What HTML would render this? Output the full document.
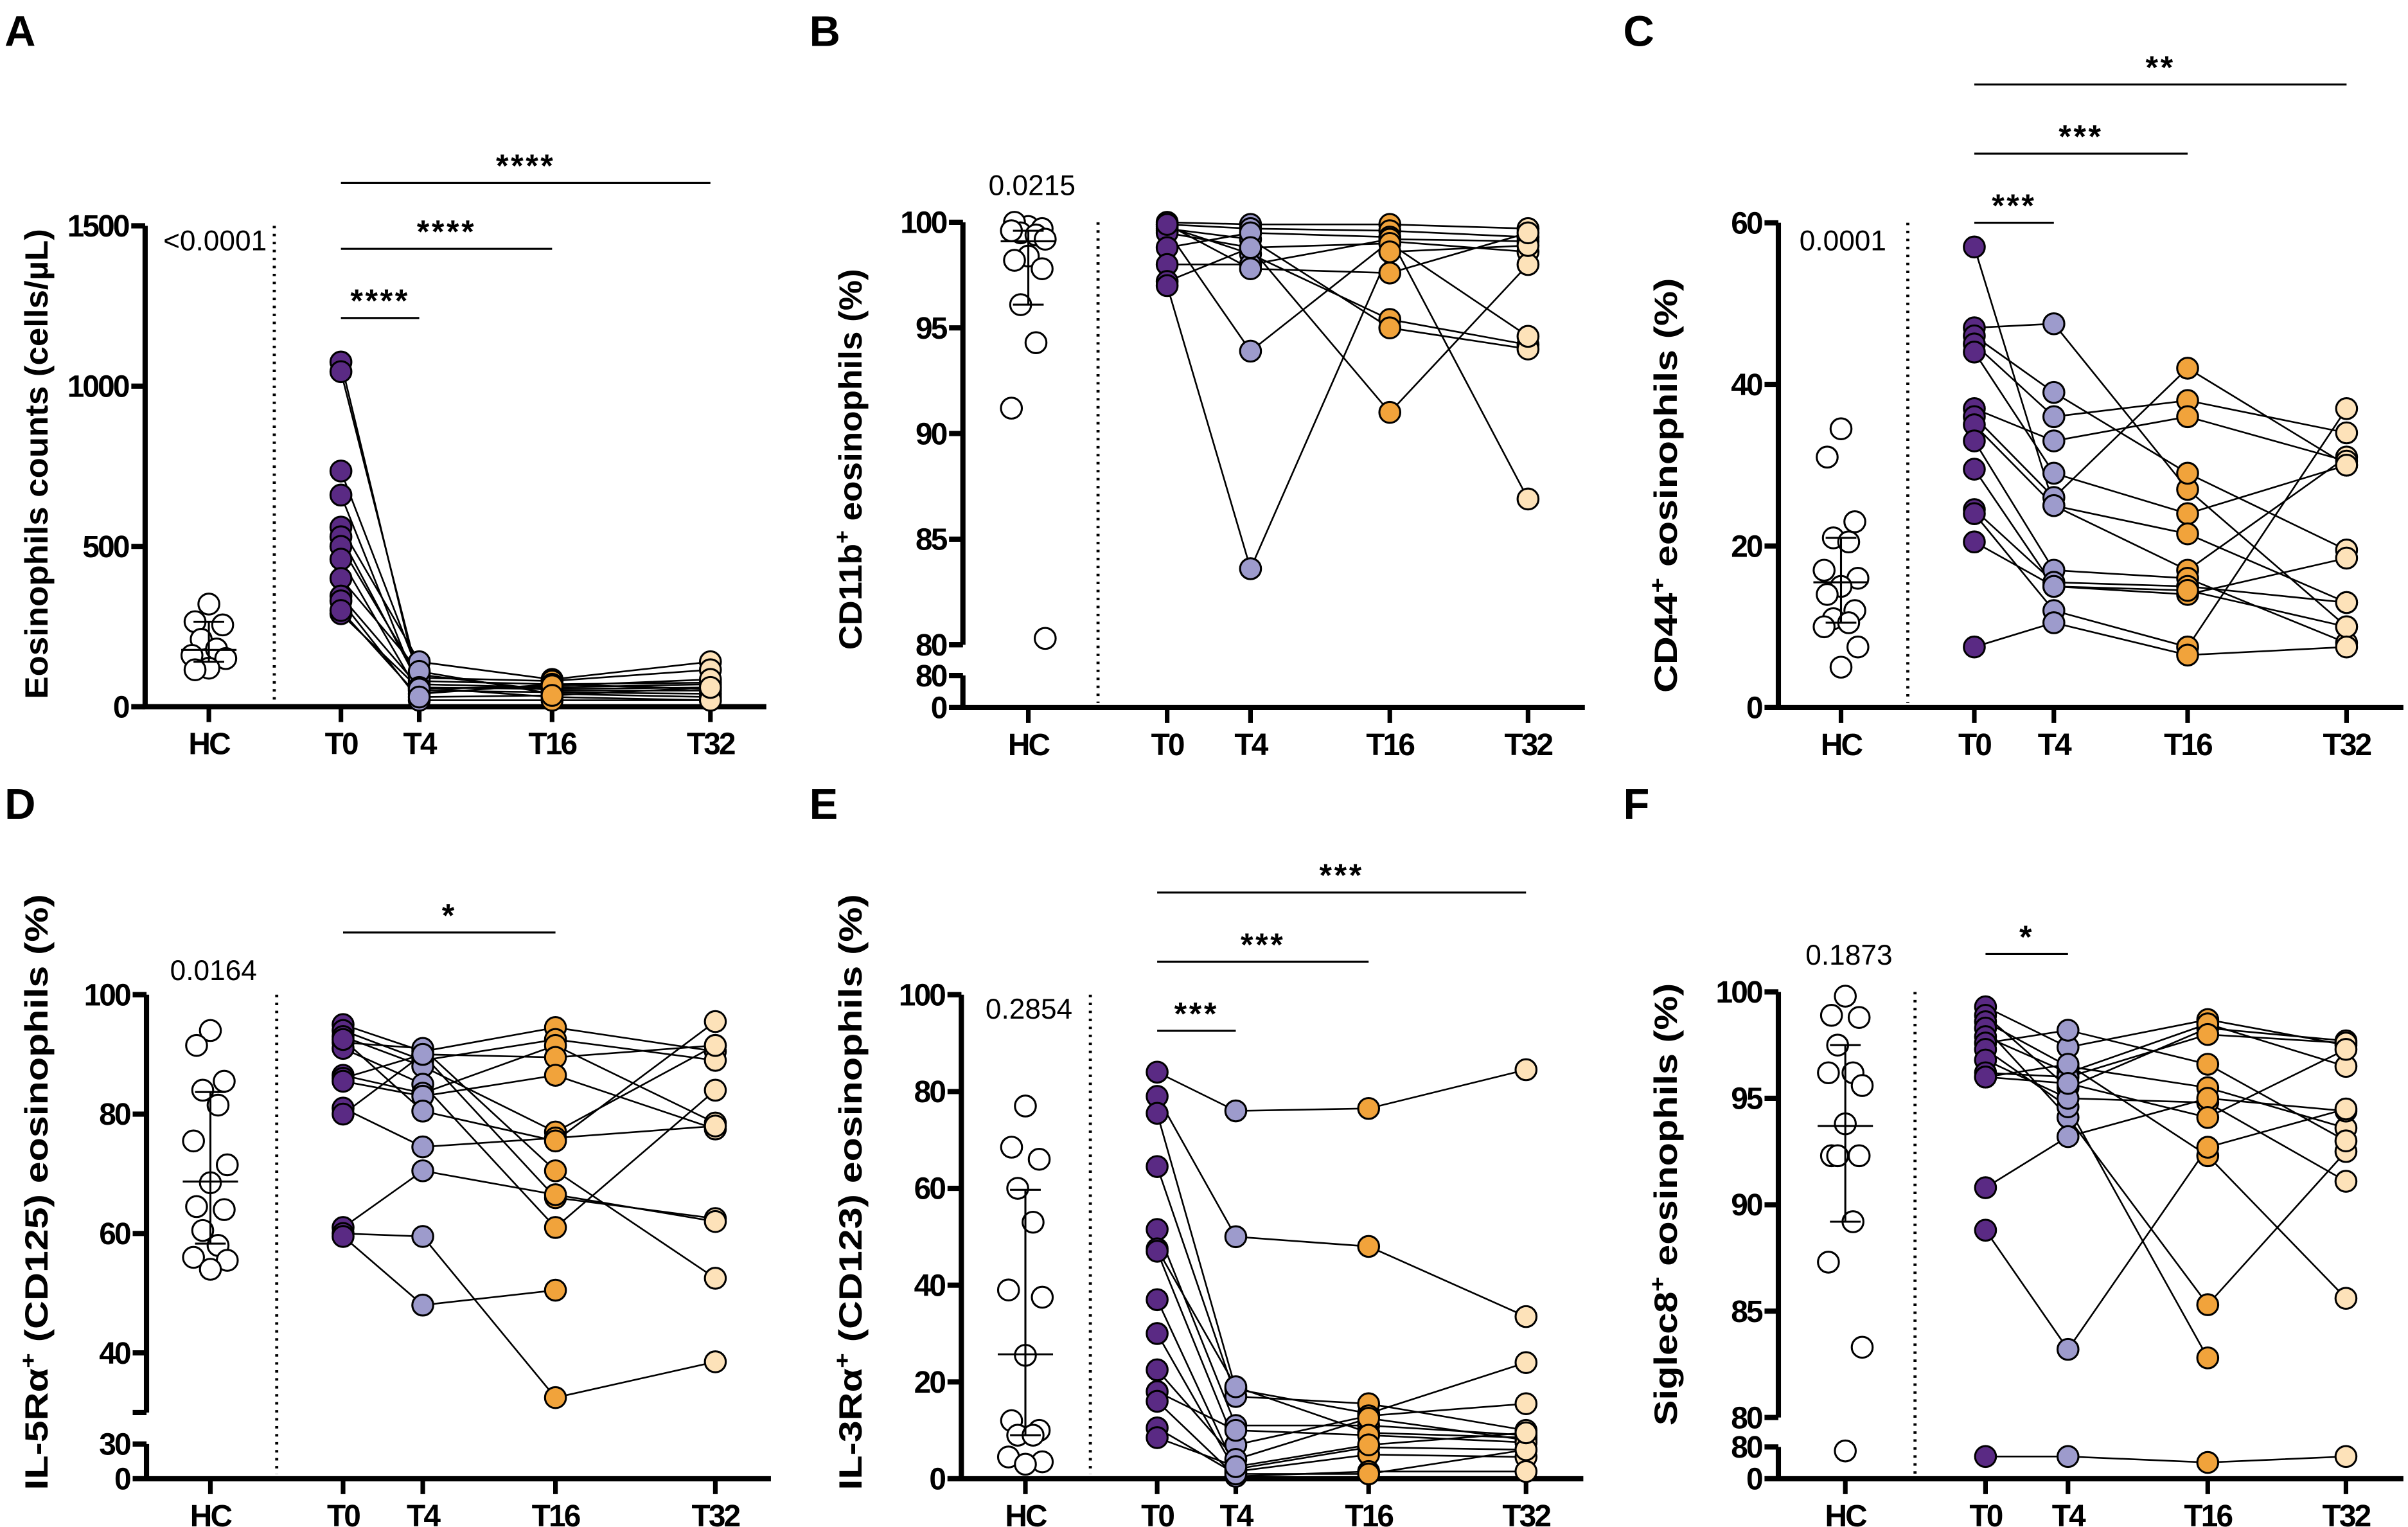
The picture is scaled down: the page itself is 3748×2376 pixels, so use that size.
<!DOCTYPE html>
<html><head><meta charset="utf-8"><style>
html,body{margin:0;padding:0;background:#fff;}
svg{display:block;}
text{font-family:"Liberation Sans",sans-serif;}
</style></head><body>
<svg id="fig" width="3748" height="2376" viewBox="0 0 1568 994" preserveAspectRatio="none" xmlns="http://www.w3.org/2000/svg"></svg>
<script>
// ---------- DATA ----------
const categories = ["HC","T0","T4","T16","T32"];
// Panel A: eosinophil counts
const aHC = [320,265,255,210,180,160,150,120,115];
const aHCStats = [177,140,265];
const aT0 = [1075,1045,735,660,560,530,500,460,400,345,330,290,300];
const aT4 = [60,80,100,50,140,70,90,40,110,60,20,55,30];
const aT16 = [55,70,50,45,85,60,80,70,40,30,20,65,35];
const aT32 = [60,75,50,40,140,70,115,55,30,20,20,85,60];
// Panel B: CD11b+
const bHC = [99.8,100,99.7,99.5,99.4,99.6,99.2,98.4,98.2,97.8,96.1,94.3,91.2,80.3];
const bHCStats = [99.1,96.1,99.6];
const bT0 = [100,99.9,99.8,99.7,99.6,99.5,98.8,98.0,97.2,97.0,99.9];
const bT4 = [99.9,99.7,98.5,99.2,93.9,98.8,99.5,98.0,98.8,83.6,97.8];
const bT16 = [99.9,99.6,95.4,95.0,99.1,91.0,99.3,99.2,99.0,98.6,97.6];
const bT32 = [99.7,99.3,94.2,94.0,98.6,98.0,86.9,99.1,94.6,98.9,99.5];
// Panel C: CD44+
const cHC = [34.5,31,23,21,20.5,17,16,15,14,12,11,10.5,10,7.5,5];
const cHCStats = [15.5,10.5,21];
const cT0 = [57,47,46,45,44,37,36,35,33,29.5,24.5,24,20.5,7.5];
const cT4 = [25,47.5,39,36,29,33,26,25,17,15,15.5,12,15,10.5];
const cT16 = [17,27,29,38,24,36,42,21.5,16,14,15,7.5,14.5,6.5];
const cT32 = [31,10,19.5,34,30,30.5,30,13,8,18.5,13,37,10,7.5];
// Panel D: IL-5Ra+
const dHC = [94,91.5,85.5,84,81.5,75.5,71.5,68.5,64.5,64,60.5,58,56,55.5,54];
const dHCStats = [68.7,58.3,83.7];
const dT0 = [95,94,93,92,91,86.5,86,85.5,81,80,61,60,59.5,92.5];
const dT4 = [90.5,89,88,91,85,83.5,90,83,74.5,90,70.5,59.5,48,80.5];
const dT16 = [94.5,92.5,77,70.5,61,91.5,89.5,86.5,76,66,66.5,32.5,50.5,75.5];
const dT32 = [90.5,89,91.5,52.5,84,78.5,91.5,77.5,78,62.5,62,38.5,null,95.5];
// Panel E: IL-3Ra+
const eHC = [77,68.5,66,60,53,39,37.5,25.5,12,10,9,9,4.5,3.5,3];
const eHCStats = [25.7,9,59.7];
const eT0 = [84,79,75.5,64.5,51.5,47.5,47,37,30,22.5,18,16,10.5,8.5];
const eT4 = [76,50,18.5,17,11,19,7,2,1.5,4,10,0.5,1,2.5];
const eT16 = [76.5,48,13.5,15.5,11,9.5,13,6.5,5,12.5,9,1.5,1,7];
const eT32 = [84.5,33.5,24,10,9,8.5,15.5,6,4.5,8,7.5,1.5,6,9.5];
// Panel F: Siglec8+
const fHC = [99.8,98.9,98.8,97.5,96.2,96.2,95.6,93.8,92.3,92.3,92.3,89.2,87.3,83.3,70];
const fHCStats = [93.7,89.2,97.5];
const fT0 = [99.3,98.9,98.6,98.3,97.9,97.6,97.3,96.8,96.2,96.0,90.8,88.8,96.0,56];
const fT4 = [97.4,95.5,96.5,94.1,96.2,98.2,94.6,95.0,96.0,96.6,93.2,83.2,95.7,56];
const fT16 = [98.7,98.3,95.5,85.3,98.5,96.6,82.8,94.8,98.0,92.3,95.0,92.7,94.1,41];
const fT32 = [97.5,97.7,93.6,92.5,96.5,93.0,null,91.1,97.6,85.6,94.4,94.5,97.3,56];

// tick labels
const aTicks = [0,500,1000,1500];
const bTicksUpper = [80,85,90,95,100];
const bTicksLower = [0,80];
const cTicks = [0,20,40,60];
const dTicksUpper = [40,60,80,100];
const dTicksLower = [0,30];
const eTicks = [0,20,40,60,80,100];
const fTicksUpper = [80,85,90,95,100];
const fTicksLower = [0,80];
const pValues = ["<0.0001","0.0215","0.0001","0.0164","0.2854","0.1873"];

// ---------- DRAW ----------
const NS = "http://www.w3.org/2000/svg";
const svg = document.getElementById("fig");
const colors = ["#ffffff","#5a2a84","#9d9bcc","#f1a33b","#fde2b9"];
function el(tag, attrs, parent){
  const e = document.createElementNS(NS, tag);
  for (const k in attrs) e.setAttribute(k, attrs[k]);
  (parent||svg).appendChild(e);
  return e;
}
function segY(s, v){ return s.y0 + (v-s.v0)/(s.v1-s.v0)*(s.y1-s.y0); }
function makeY(segs){
  return function(v){
    for (const s of segs){
      if (v>=s.v0 && v<=s.v1) return segY(s, v);
    }
    return segY(segs[segs.length-1], v);
  };
}
function drawPanel(p){
  const g = el("g", {});
  
  
  const y = makeY(p.segs);
  const base = p.segs[p.segs.length-1].y0;
  const top = p.segs[0].y1;
  const L = el("text", {x:p.letter[1], y:p.letter[2], "font-size":28, "font-weight":"bold"}, g);
  L.textContent = p.letter[0];
  
  
  p.segs.forEach((s,si)=>{
    const ln = el("line", {x1:p.ax, x2:p.ax, y1:s.y0 + (si===p.segs.length-1?1.5:0), y2:s.y1, stroke:"#000","stroke-width":3.4}, g);
    
    
    [s.y0,s.y1].forEach(yy=>{
      el("line", {x1:p.ax-9, x2:p.ax, y1:yy, y2:yy, stroke:"#000","stroke-width":3.4}, g);
    });
  });
  p.ticks.forEach(t=>{
    const yy = segY(p.segs[t.seg], t.v);
    el("line", {x1:p.ax-9, x2:p.ax, y1:yy, y2:yy, stroke:"#000","stroke-width":3.4}, g);
    const tx = el("text", {x:p.ax-11, y:yy+7, "font-size":20, "font-weight":"bold","text-anchor":"end","letter-spacing":"-1.2"}, g);
    tx.textContent = t.label;
    
    
  });
  const xa = el("line", {x1:p.ax-1.7, x2:p.xEnd, y1:base, y2:base, stroke:"#000","stroke-width":3.4}, g);
  
  
  categories.forEach((c,i)=>{
    const xx = p.xs[i];
    el("line", {x1:xx, x2:xx, y1:base, y2:base+10, stroke:"#000","stroke-width":3}, g);
    const tx = el("text", {x:xx, y:base+31, "font-size":20, "font-weight":"bold","text-anchor":"middle","letter-spacing":"-1.2"}, g);
    tx.textContent = c;
    
    
  });
  const dl = el("line", {x1:p.dot, x2:p.dot, y1:top, y2:base-3, stroke:"#000","stroke-width":2,"stroke-dasharray":"1.6 3.6"}, g);
  
  
  const at = el("text", {transform:`translate(${p.title.x},${p.title.cy}) rotate(-90)`, "font-size":21, "font-weight":"bold","text-anchor":"middle", textLength:p.title.len, lengthAdjust:"spacingAndGlyphs"}, g);
  at.innerHTML = p.title.html;
  
  
  const pv = el("text", {x:p.pv.x, y:p.pv.y, "font-size":18.5,"text-anchor":"middle"}, g);
  pv.textContent = p.pv.t;
  
  
  p.sig.forEach(s=>{
    const sl = el("line", {x1:p.xs[1], x2:p.xs[s.to], y1:s.y, y2:s.y, stroke:"#000","stroke-width":1.3}, g);
    
    
    const st = el("text", {x:(p.xs[1]+p.xs[s.to])/2, y:s.y-4, "font-size":21,"font-weight":"bold","text-anchor":"middle","letter-spacing":"1.5"}, g);
    st.textContent = s.t;
    
    
  });
  const series = p.series;
  for (let k=0;k<series[0].length;k++){
    const pts = [];
    for (let j=0;j<4;j++){
      const v = series[j][k];
      if (v!==null && v!==undefined) pts.push([p.xs[j+1], y(v)]);
    }
    if (pts.length>1){
      const pl = el("polyline", {points:pts.map(q=>q.join(",")).join(" "), fill:"none", stroke:"#000","stroke-width":1.1}, g);
      
      
    }
  }
  for (let j=3;j>=0;j--){
    series[j].forEach(v=>{
      if (v===null || v===undefined) return;
      const c = el("circle", {cx:p.xs[j+1], cy:y(v), r:6.8, fill:colors[j+1], stroke:"#000","stroke-width":1.3}, g);
      
      
    });
  }
  p.hc.forEach((v,i)=>{
    const off = [0,-9,9,-5,5,-11,11][i % 7];
    const c = el("circle", {cx:p.xs[0] + off, cy:y(v), r:6.8, fill:"#fff", stroke:"#000","stroke-width":1.3}, g);
    
    
  });
  const hs = p.hcStats, hx = p.xs[0];
  el("line", {x1:hx, x2:hx, y1:y(hs[1]), y2:y(hs[2]), stroke:"#000","stroke-width":1.3}, g);
  el("line", {x1:hx-18, x2:hx+18, y1:y(hs[0]), y2:y(hs[0]), stroke:"#000","stroke-width":1.3}, g);
  el("line", {x1:hx-10, x2:hx+10, y1:y(hs[1]), y2:y(hs[1]), stroke:"#000","stroke-width":1.3}, g);
  el("line", {x1:hx-10, x2:hx+10, y1:y(hs[2]), y2:y(hs[2]), stroke:"#000","stroke-width":1.3}, g);
}
function lab(a, seg){ return a.map(v=>({v:v,label:String(v),seg:seg||0})); }

drawPanel({name:"panel-a", letter:["A",3,30], ax:94.5, xEnd:499, dot:178.6,
  xs:[136,222,273,359.5,462.6], segs:[{v0:0,v1:1500,y0:460,y1:147}],
  ticks:lab(aTicks), title:{x:31,cy:302,len:306,html:"Eosinophils counts (cells/µL)"},
  pv:{x:140,y:163,t:pValues[0]},
  sig:[{to:2,y:207,t:"****"},{to:3,y:162,t:"****"},{to:4,y:119,t:"****"}],
  series:[aT0,aT4,aT16,aT32], hc:aHC, hcStats:aHCStats});

drawPanel({name:"panel-b", letter:["B",527,30], ax:627, xEnd:1032, dot:715,
  xs:[669.6,760,814.3,905,995], segs:[{v0:80,v1:100,y0:419.7,y1:144.7},{v0:0,v1:80,y0:460.6,y1:439.7}],
  ticks:lab(bTicksUpper,0).concat(lab(bTicksLower,1)),
  title:{x:561,cy:299,len:248,html:"CD11b<tspan dy=\"-8\" font-size=\"14\">+</tspan><tspan dy=\"8\"> eosinophils (%)</tspan>"},
  pv:{x:672,y:127,t:pValues[1]}, sig:[],
  series:[bT0,bT4,bT16,bT32], hc:bHC, hcStats:bHCStats});

drawPanel({name:"panel-c", letter:["C",1057,30], ax:1158, xEnd:1565, dot:1242.3,
  xs:[1198.8,1285.6,1337.4,1424.5,1528], segs:[{v0:0,v1:60,y0:460.6,y1:145}],
  ticks:lab(cTicks), title:{x:1092,cy:316,len:270,html:"CD44<tspan dy=\"-8\" font-size=\"14\">+</tspan><tspan dy=\"8\"> eosinophils (%)</tspan>"},
  pv:{x:1200,y:163,t:pValues[2]},
  sig:[{to:2,y:145,t:"***"},{to:3,y:100,t:"***"},{to:4,y:55,t:"**"}],
  series:[cT0,cT4,cT16,cT32], hc:cHC, hcStats:cHCStats});

drawPanel({name:"panel-d", letter:["D",3,533], ax:95.4, xEnd:502, dot:180.2,
  xs:[137,223.4,275.3,361.7,465.8], segs:[{v0:30,v1:100,y0:919.5,y1:647.5},{v0:0,v1:30,y0:962.6,y1:940}],
  ticks:lab(dTicksUpper,0).concat(lab(dTicksLower,1)),
  title:{x:31,cy:776,len:388,html:"IL-5Rα<tspan dy=\"-8\" font-size=\"14\">+</tspan><tspan dy=\"8\"> (CD125) eosinophils (%)</tspan>"},
  pv:{x:139,y:638,t:pValues[3]},
  sig:[{to:3,y:607,t:"*"}],
  series:[dT0,dT4,dT16,dT32], hc:dHC, hcStats:dHCStats});

drawPanel({name:"panel-e", letter:["E",527,533], ax:626, xEnd:1031, dot:710,
  xs:[667.7,753.5,804.7,891.2,993.7], segs:[{v0:0,v1:100,y0:962.6,y1:647.5}],
  ticks:lab(eTicks),
  title:{x:561,cy:776,len:388,html:"IL-3Rα<tspan dy=\"-8\" font-size=\"14\">+</tspan><tspan dy=\"8\"> (CD123) eosinophils (%)</tspan>"},
  pv:{x:670,y:663,t:pValues[4]},
  sig:[{to:2,y:671,t:"***"},{to:3,y:626,t:"***"},{to:4,y:581,t:"***"}],
  series:[eT0,eT4,eT16,eT32], hc:eHC, hcStats:eHCStats});

drawPanel({name:"panel-f", letter:["F",1057,533], ax:1158, xEnd:1565, dot:1247,
  xs:[1201.6,1292.9,1346.6,1437.6,1527.6], segs:[{v0:80,v1:100,y0:922.7,y1:645.7},{v0:0,v1:80,y0:962.6,y1:941.9}],
  ticks:lab(fTicksUpper,0).concat(lab(fTicksLower,1)),
  title:{x:1092,cy:784,len:288,html:"Siglec8<tspan dy=\"-8\" font-size=\"14\">+</tspan><tspan dy=\"8\"> eosinophils (%)</tspan>"},
  pv:{x:1204,y:628,t:pValues[5]},
  sig:[{to:2,y:621,t:"*"}],
  series:[fT0,fT4,fT16,fT32], hc:fHC, hcStats:fHCStats});
</script>
</body></html>
